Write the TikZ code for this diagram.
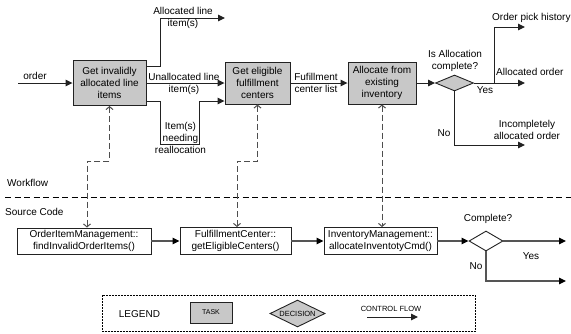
\documentclass[tikz,border=0pt]{standalone}
\usepackage{fontspec}
\setmainfont{Liberation Sans}
\usetikzlibrary{arrows.meta,shapes.geometric}

\definecolor{taskfill}{HTML}{C8C8C8}
\definecolor{inkline}{HTML}{222222}
\definecolor{codeflow}{HTML}{555555}

\tikzset{
  txt/.style={font=\fontsize{10}{12}\selectfont, align=center, inner sep=0pt},
  small/.style={font=\fontsize{7.5}{9}\selectfont, inner sep=0pt},
  task/.style={draw=inkline, line width=0.9pt, fill=taskfill, rectangle,
               inner sep=0pt, align=center, font=\fontsize{10}{12}\selectfont},
  codebox/.style={draw=inkline, line width=0.9pt, fill=white, rectangle,
               inner sep=0pt, align=center, font=\fontsize{10}{12}\selectfont},
  decision/.style={draw=inkline, line width=0.9pt, diamond, inner sep=0pt},
  flow/.style={draw=inkline, line width=1pt,
               -{Triangle[length=7pt,width=6.5pt]}},
  codearrow/.style={draw=codeflow, line width=1.2pt,
               -{Triangle[length=7pt,width=6.5pt,color=black]}},
  plainline/.style={draw=inkline, line width=1pt},
  link/.style={draw=inkline!80, line width=1pt, dash pattern=on 6pt off 3pt,
               {Straight Barb[length=3pt,width=7pt]}-{Straight Barb[length=3pt,width=7pt]}},
  separator/.style={draw=black, line width=1pt, dash pattern=on 6pt off 3.5pt},
  legendframe/.style={draw=black, line width=0.6pt, dash pattern=on 2pt off 1pt}
}

\begin{document}
\begin{tikzpicture}[x=1pt, y=-1pt]
\useasboundingbox (0,0) rectangle (571,333);

% ---------------- workflow tasks ----------------
\node[task, minimum width=73pt, minimum height=45pt] (t1) at (109.5,83)
  {Get invalidly\\allocated line\\items};
\node[task, minimum width=65pt, minimum height=42pt] (t2) at (257.5,83)
  {Get eligible\\fulfillment\\centers};
\node[task, minimum width=68pt, minimum height=42pt] (t3) at (382,83)
  {Allocate from\\existing\\inventory};
\node[decision, fill=taskfill, minimum width=38pt, minimum height=16pt] (d1) at (454.5,83) {};

% input
\coordinate (orderIn) at (18,83);
\draw[flow] (orderIn) -- (t1.west);
\node[txt] (lblOrder) at (35,76) {order};

% outputs of the first task
\coordinate (allocEnd) at (225,18);
\draw[flow] ([yshift=17pt]t1.east) -- ++(14,0) |- (allocEnd);
\node[txt] (lblAlloc) at (183,18) {Allocated line\\item(s)};

\draw[flow] (t1.east) -- (t2.west);
\node[txt] (lblUnalloc) at (184,83.5) {Unallocated line\\item(s)};

\coordinate (reallocBend) at (199,144);
\draw[flow] ([yshift=-18pt]t1.east) -- ++(14,0) |- (reallocBend) |- ([yshift=-18pt]t2.west);
\node[txt] (lblRealloc) at (180.5,137.5) {Item(s)\\needing\\reallocation};

% fulfillment centers to allocation
\draw[flow] (t2.east) -- (t3.west);
\node[txt] (lblCenters) at (316,83) {Fufillment\\center list};

\draw[flow] (t3.east) -- (d1.west);
\node[txt] (lblIsComplete) at (455,61) {Is Allocation\\complete?};

% decision outcomes
\coordinate (yesSplit) at (494,83);
\coordinate (historyEnd) at (525,27);
\coordinate (allocOrderEnd) at (525,83);
\coordinate (noBend) at (454.5,145);
\coordinate (incompleteEnd) at (525,145);
\draw[flow] (d1.east) -- (allocOrderEnd);
\draw[flow] (yesSplit) |- (historyEnd);
\draw[flow] (d1.south) -- (noBend) -- (incompleteEnd);
\node[txt, anchor=west] (lblHistory) at (492,18) {Order pick history};
\node[txt, anchor=west] (lblAllocOrder) at (496,72) {Allocated order};
\node[txt] (lblYes1) at (485,90) {Yes};
\node[txt] (lblNo1) at (444,133) {No};
\node[txt] (lblIncomplete) at (527,129.5) {Incompletely\\allocated order};

% ---------------- lanes ----------------
\coordinate (sepL) at (5,197);
\coordinate (sepR) at (571,197);
\draw[separator] (sepL) -- (sepR);
\node[txt, anchor=west] (laneWorkflow) at (7,183) {Workflow};
\node[txt, anchor=west] (laneSource) at (5,212) {Source Code};

% ---------------- source code ----------------
\node[codebox, minimum width=134pt, minimum height=26pt] (c1) at (84,241)
  {OrderItemManagement::\\findInvalidOrderItems()};
\node[codebox, minimum width=111pt, minimum height=27pt] (c2) at (235.5,241)
  {FulfillmentCenter::\\getEligibleCenters()};
\node[codebox, minimum width=113pt, minimum height=27pt] (c3) at (380.5,241)
  {InventoryManagement::\\allocateInventotyCmd()};
\node[decision, fill=white, minimum width=34pt, minimum height=20pt] (d2) at (486,241) {};

\draw[codearrow] (c1.east) -- (c2.west);
\draw[codearrow] (c2.east) -- (c3.west);
\draw[codearrow] (c3.east) -- (d2.west);
\node[txt] (lblComplete) at (488,219) {Complete?};

\coordinate (codeYesEnd) at (566,241);
\coordinate (codeNoBend) at (486,281);
\coordinate (codeNoEnd) at (566,281);
\draw[codearrow] (d2.east) -- (codeYesEnd);
\draw[codearrow] (d2.south) -- (codeNoBend) -- (codeNoEnd);
\node[txt] (lblYes2) at (531,256) {Yes};
\node[txt] (lblNo2) at (476,266) {No};

% ---------------- task to code links ----------------
\coordinate (linkBendA) at (87,161);
\coordinate (linkBendB) at (237,161);
\draw[link] (t1.south) |- (linkBendA) -- (linkBendA |- c1.north);
\draw[link] (t2.south) |- (linkBendB) -- (linkBendB |- c2.north);
\draw[link] (t3.south) -- (t3.south |- c3.north);

% ---------------- legend ----------------
\draw[legendframe] (102,295) rectangle (475,331.5);
\node[txt] (legTitle) at (139.5,314) {LEGEND};
\node[task, minimum width=42pt, minimum height=21pt, font=\fontsize{7}{8}\selectfont]
  (legTask) at (211,312.5) {TASK};
\node[decision, fill=taskfill, minimum width=55pt, minimum height=27pt] (legDec) at (297.5,313.5) {};
\node[small] (legDecText) at (legDec) {DECISION};
\node[small] (legFlowText) at (391,308.5) {CONTROL FLOW};
\coordinate (legFlowA) at (367,317);
\coordinate (legFlowB) at (418,317);
\draw[flow] (legFlowA) -- (legFlowB);
\end{tikzpicture}
\end{document}
